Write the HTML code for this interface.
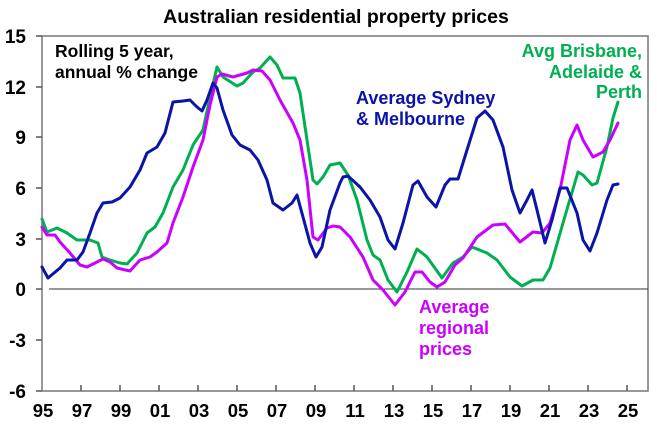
<!DOCTYPE html>
<html><head><meta charset="utf-8"><style>
html,body{margin:0;padding:0;background:#fff;width:657px;height:428px;overflow:hidden}
text{font-family:"Liberation Sans",Arial,sans-serif;font-weight:bold}
</style></head><body>
<svg width="657" height="428" xmlns="http://www.w3.org/2000/svg">
<text x="336" y="23" font-size="19.5" text-anchor="middle" fill="#000">Australian residential property prices</text>
<rect x="42" y="36" width="606" height="355" fill="none" stroke="#777" stroke-width="1.5"/>
<line x1="49" y1="289" x2="648" y2="289" stroke="#333" stroke-width="1"/>
<g stroke="#555" stroke-width="1.5">
<line x1="36" y1="36" x2="42" y2="36"/><line x1="36" y1="87" x2="42" y2="87"/><line x1="36" y1="137" x2="42" y2="137"/><line x1="36" y1="188" x2="42" y2="188"/><line x1="36" y1="239" x2="42" y2="239"/><line x1="36" y1="289" x2="42" y2="289"/><line x1="36" y1="340" x2="42" y2="340"/><line x1="36" y1="391" x2="42" y2="391"/>
<line x1="81" y1="385" x2="81" y2="391"/><line x1="120" y1="385" x2="120" y2="391"/><line x1="159" y1="385" x2="159" y2="391"/><line x1="198" y1="385" x2="198" y2="391"/><line x1="237" y1="385" x2="237" y2="391"/><line x1="276" y1="385" x2="276" y2="391"/><line x1="315" y1="385" x2="315" y2="391"/><line x1="354" y1="385" x2="354" y2="391"/><line x1="393" y1="385" x2="393" y2="391"/><line x1="432" y1="385" x2="432" y2="391"/><line x1="471" y1="385" x2="471" y2="391"/><line x1="510" y1="385" x2="510" y2="391"/><line x1="549" y1="385" x2="549" y2="391"/><line x1="588" y1="385" x2="588" y2="391"/><line x1="627" y1="385" x2="627" y2="391"/>
</g>
<g font-size="19" text-anchor="end" fill="#000">
<text x="26" y="43">15</text><text x="26" y="94">12</text><text x="26" y="144">9</text><text x="26" y="195">6</text><text x="26" y="246">3</text><text x="26" y="296">0</text><text x="26" y="347">-3</text><text x="26" y="398">-6</text>
</g>
<g font-size="18.5" text-anchor="middle" fill="#000">
<text x="43" y="417">95</text><text x="82" y="417">97</text><text x="121" y="417">99</text><text x="160" y="417">01</text><text x="199" y="417">03</text><text x="238" y="417">05</text><text x="277" y="417">07</text><text x="316" y="417">09</text><text x="355" y="417">11</text><text x="394" y="417">13</text><text x="433" y="417">15</text><text x="472" y="417">17</text><text x="511" y="417">19</text><text x="550" y="417">21</text><text x="589" y="417">23</text><text x="628" y="417">25</text>
</g>
<g fill="none" stroke-width="3" stroke-linejoin="round" stroke-linecap="round">
<polyline stroke="#00b050" points="42,219 47,232 57,228 67,233 77,240 90,240 98,243 102,257 110,260 120,263 127,264 137,253 147,233 155,227 163,213 173,187 183,170 193,145 203,130 210,97 217,67 223,77 237,86 243,83 253,72 260,68 270,57 277,65 283,78 295,78 300,93 307,140 313,180 317,184 323,177 330,165 340,163 348,175 357,200 367,240 373,255 380,260 388,280 397,292 407,272 417,249 427,257 442,278 453,263 463,257 472,247 487,253 497,260 510,277 522,286 533,280 543,280 550,268 563,223 578,172 583,175 592,185 597,183 607,147 613,118 618,102"/>
<polyline stroke="#cc00ff" points="42,227 47,235 55,235 60,242 70,253 80,265 87,267 97,262 103,259 110,262 117,268 130,271 140,260 150,257 157,252 167,243 173,223 183,197 193,167 203,140 210,105 217,77 222,74 233,77 247,73 253,70 262,71 270,80 280,100 293,123 300,140 307,180 313,237 318,240 327,228 333,226 340,227 350,237 363,257 373,280 383,290 395,305 405,292 415,272 422,272 430,282 437,287 445,282 455,265 463,258 477,237 493,225 505,224 520,242 533,232 542,233 550,223 560,190 570,140 577,125 583,140 593,157 603,152 610,140 618,123"/>
<polyline stroke="#0a14a8" points="42,267 48,278 60,268 67,260 77,260 83,252 90,233 97,213 103,203 112,202 120,198 130,187 140,170 147,153 157,147 165,133 173,102 183,101 190,100 197,107 202,111 207,100 213,83 217,88 223,110 232,135 240,145 250,150 258,160 267,180 273,203 283,210 292,203 297,195 303,217 310,243 316,257 322,247 330,210 340,183 343,177 348,176 360,187 370,200 380,217 388,240 395,249 403,223 413,185 418,181 427,197 436,207 445,185 450,179 458,179 467,150 477,118 485,111 493,120 503,147 512,190 520,213 527,200 532,190 537,210 545,243 552,220 560,188 567,188 577,213 583,240 590,251 597,233 607,200 613,185 618,184"/>
</g>
<g font-size="17.5" fill="#000"><text x="55" y="57">Rolling 5 year,</text><text x="55" y="78">annual % change</text></g>
<g font-size="18" fill="#0a14a8"><text x="356" y="104">Average Sydney</text><text x="356" y="125">&amp; Melbourne</text></g>
<g font-size="18" fill="#00b050" text-anchor="end"><text x="642" y="57">Avg Brisbane,</text><text x="642" y="78">Adelaide &amp;</text><text x="642" y="98">Perth</text></g>
<g font-size="18" fill="#cc00ff"><text x="419" y="313">Average</text><text x="419" y="334">regional</text><text x="419" y="355">prices</text></g>
</svg>
</body></html>
